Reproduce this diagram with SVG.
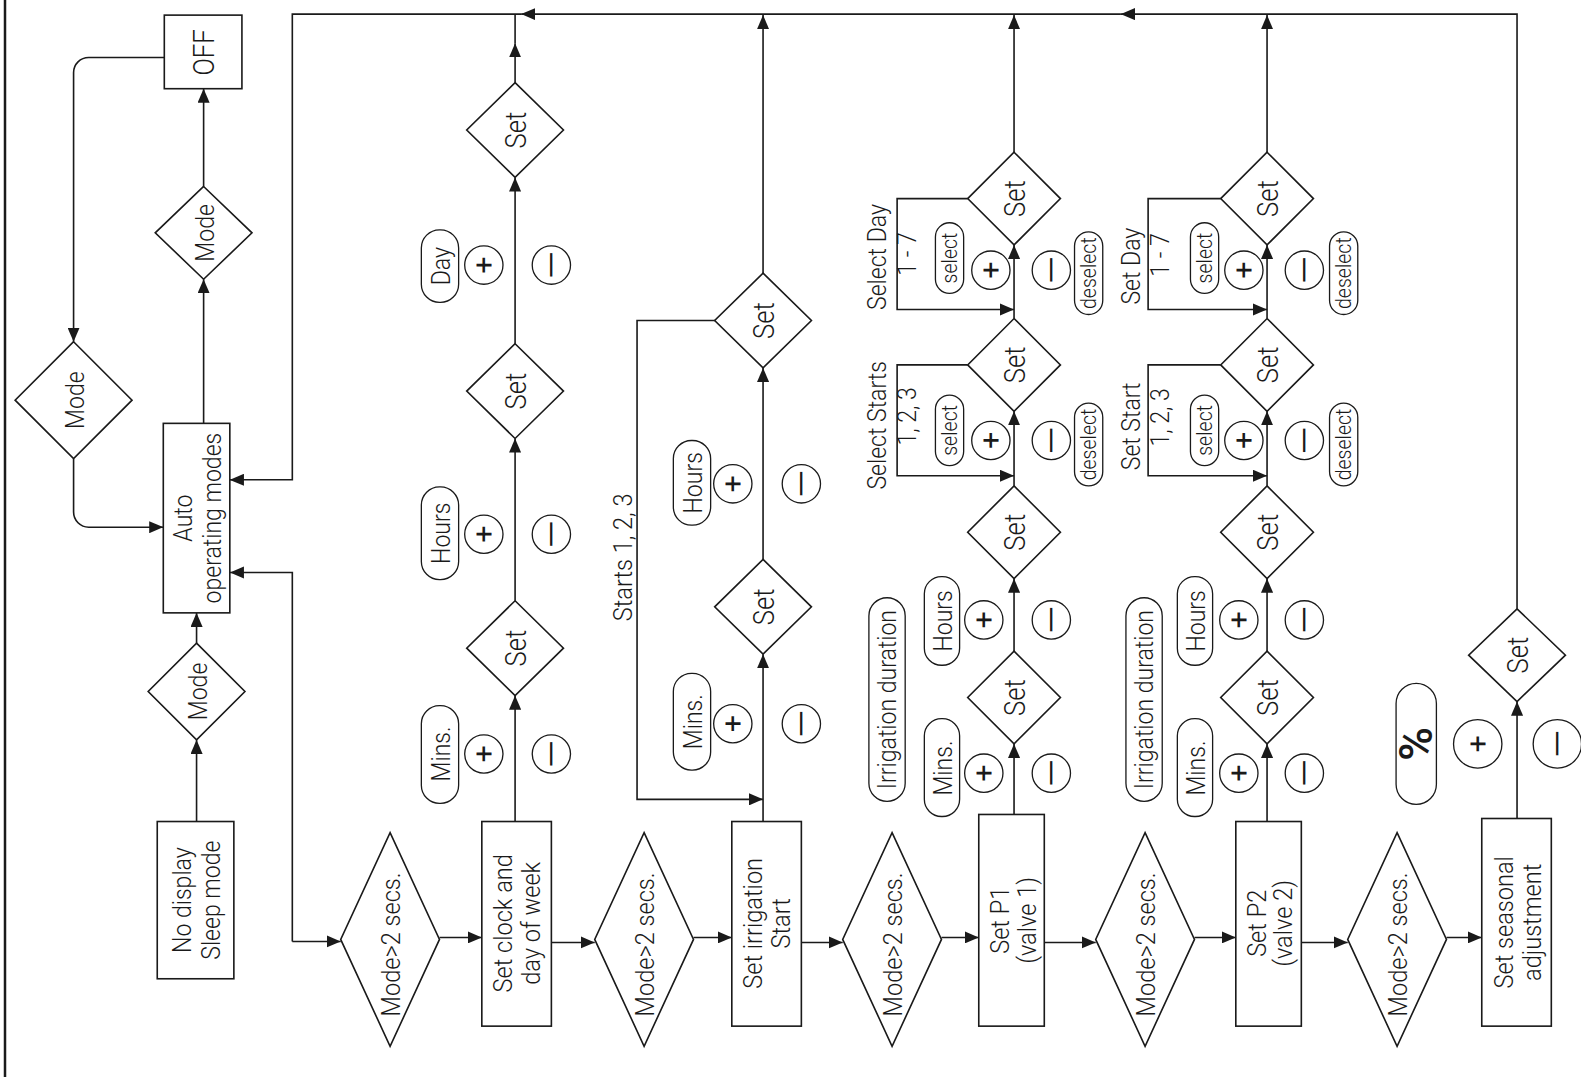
<svg xmlns="http://www.w3.org/2000/svg" width="1581" height="1077" viewBox="0 0 1581 1077">
<defs>
<marker id="ah" markerWidth="14" markerHeight="12" refX="14" refY="6" orient="auto" markerUnits="userSpaceOnUse"><path d="M0,0 L14,6 L0,12 z" fill="#1a1a1a"/></marker>
<style>
.n{fill:#fff;stroke:#1a1a1a;stroke-width:1.6}
.p{fill:#fff;stroke:#1a1a1a;stroke-width:1.3}
.c{fill:none;stroke:#1a1a1a;stroke-width:1.6}
.a{fill:none;stroke:#1a1a1a;stroke-width:1.6;marker-end:url(#ah)}
.t{font-family:Roboto,"Liberation Sans",sans-serif;font-size:26px;font-weight:300;fill:#1a1a1a;text-anchor:middle;dominant-baseline:central}
.s{font-size:22px}
.pl{font-size:30px;font-weight:400}
.pc{font-size:46px;font-weight:500}
.big{font-size:29px}
</style>
</defs>
<rect width="1581" height="1077" fill="#fff"/>
<line x1="5" y1="0" x2="5" y2="1077" stroke="#1a1a1a" stroke-width="2.5"/>
<g transform="scale(1.008)">
<g id="connectors">
<path class="a" d="M163,57 H88 A15,15 0 0 0 73,72 V339"/>
<path class="a" d="M73,455 V508 A15,15 0 0 0 88,523 H162"/>
<path class="a" d="M202,420 V277"/>
<path class="a" d="M202,185 V88"/>
<path class="a" d="M195,815 V734"/>
<path class="a" d="M195,638 V608"/>
<path class="a" d="M1505,604 V14 H1112"/>
<path class="a" d="M1112,14 H517"/>
<path class="a" d="M517,14 H290 V476 H228"/>
<path class="a" d="M290,934 V568 H228"/>
<path class="a" d="M290,934 H338"/>
<path class="a" d="M436,930 H478"/>
<path class="a" d="M547,935 H590"/>
<path class="a" d="M688,930 H726"/>
<path class="a" d="M795,935 H836"/>
<path class="a" d="M934,930 H971"/>
<path class="a" d="M1036,935 H1087"/>
<path class="a" d="M1185,930 H1226"/>
<path class="a" d="M1291,935 H1337"/>
<path class="a" d="M1435,930 H1470"/>
<path class="a" d="M511,815 V690"/>
<path class="a" d="M511,596 V435"/>
<path class="a" d="M511,341 V176"/>
<path class="a" d="M511,82 V43"/>
<path class="c" d="M511,43 V14"/>
<path class="a" d="M757,815 V649"/>
<path class="a" d="M757,555 V365"/>
<path class="a" d="M757,271 V15"/>
<path class="a" d="M710,318 H632 V793 H757"/>
<path class="a" d="M1006,808 V738"/>
<path class="a" d="M1006,646 V574"/>
<path class="a" d="M1006,482 V408"/>
<path class="a" d="M1006,316 V243"/>
<path class="a" d="M1006,151 V15"/>
<path class="a" d="M960,362 H890 V472 H1006"/>
<path class="a" d="M960,197 H890 V307 H1006"/>
<path class="a" d="M1257,815 V738"/>
<path class="a" d="M1257,646 V574"/>
<path class="a" d="M1257,482 V408"/>
<path class="a" d="M1257,316 V243"/>
<path class="a" d="M1257,151 V15"/>
<path class="a" d="M1211,362 H1139 V472 H1257"/>
<path class="a" d="M1211,197 H1139 V307 H1257"/>
<path class="a" d="M1505,812 V696"/>
</g>

<g id="off"><rect class="n" x="163" y="15" width="77" height="73"/><text class="t big" transform="translate(202 52) rotate(-90) scale(.88 1)">OFF</text></g>
<g id="mode-top"><polygon class="n" points="202,185 250,231 202,277 154,231"/><text class="t" transform="translate(203 231) rotate(-90) scale(.88 1)">Mode</text></g>
<g id="mode-left"><polygon class="n" points="73,339 131,397 73,455 15,397"/><text class="t" transform="translate(74 397) rotate(-90) scale(.88 1)">Mode</text></g>
<g id="auto"><rect class="n" x="162" y="420" width="66" height="188"/><text class="t" transform="translate(182 514) rotate(-90) scale(.88 1)">Auto</text><text class="t" transform="translate(210 514) rotate(-90) scale(.88 1)">operating modes</text></g>
<g id="mode-low"><polygon class="n" points="195,638 243,686 195,734 147,686"/><text class="t" transform="translate(196 686) rotate(-90) scale(.88 1)">Mode</text></g>
<g id="sleep"><rect class="n" x="156" y="815" width="76" height="156"/><text class="t" transform="translate(181 893) rotate(-90) scale(.88 1)">No display</text><text class="t" transform="translate(209 893) rotate(-90) scale(.88 1)">Sleep mode</text></g>

<g id="mode2s-1"><polygon class="n" points="387,826 436,932 387,1038 338,932"/><text class="t" transform="translate(388 937) rotate(-90) scale(.9 1)">Mode&gt;2 secs.</text></g>
<g id="mode2s-2"><polygon class="n" points="639,826 688,932 639,1038 590,932"/><text class="t" transform="translate(640 937) rotate(-90) scale(.9 1)">Mode&gt;2 secs.</text></g>
<g id="mode2s-3"><polygon class="n" points="885,826 934,932 885,1038 836,932"/><text class="t" transform="translate(886 937) rotate(-90) scale(.9 1)">Mode&gt;2 secs.</text></g>
<g id="mode2s-4"><polygon class="n" points="1136,826 1185,932 1136,1038 1087,932"/><text class="t" transform="translate(1137 937) rotate(-90) scale(.9 1)">Mode&gt;2 secs.</text></g>
<g id="mode2s-5"><polygon class="n" points="1386,826 1435,932 1386,1038 1337,932"/><text class="t" transform="translate(1387 937) rotate(-90) scale(.9 1)">Mode&gt;2 secs.</text></g>

<g id="set-clock"><rect class="n" x="478" y="815" width="69" height="203"/><text class="t" transform="translate(499 916) rotate(-90) scale(.9 1)">Set clock and</text><text class="t" transform="translate(527 916) rotate(-90) scale(.9 1)">day of week</text></g>
<g id="set-start"><rect class="n" x="726" y="815" width="69" height="203"/><text class="t" transform="translate(747 916) rotate(-90) scale(.9 1)">Set irrigation</text><text class="t" transform="translate(775 916) rotate(-90) scale(.9 1)">Start</text></g>
<g id="set-p1"><rect class="n" x="971" y="808" width="65" height="210"/><text class="t" transform="translate(992 913) rotate(-90) scale(.9 1)">Set P1</text><text class="t" transform="translate(1019 913) rotate(-90) scale(.9 1)">(valve 1)</text></g>
<g id="set-p2"><rect class="n" x="1226" y="815" width="65" height="203"/><text class="t" transform="translate(1247 916) rotate(-90) scale(.9 1)">Set P2</text><text class="t" transform="translate(1273 916) rotate(-90) scale(.9 1)">(valve 2)</text></g>
<g id="set-seasonal"><rect class="n" x="1470" y="812" width="69" height="206"/><text class="t" transform="translate(1492 915) rotate(-90) scale(.9 1)">Set seasonal</text><text class="t" transform="translate(1520 915) rotate(-90) scale(.9 1)">adjustment</text></g>

<g id="c1-set-a"><polygon class="n" points="511,596 559,643 511,690 463,643"/><text class="t big" transform="translate(512 643) rotate(-90) scale(.88 1)">Set</text></g>
<g id="c1-set-b"><polygon class="n" points="511,341 559,388 511,435 463,388"/><text class="t big" transform="translate(512 388) rotate(-90) scale(.88 1)">Set</text></g>
<g id="c1-set-c"><polygon class="n" points="511,82 559,129 511,176 463,129"/><text class="t big" transform="translate(512 129) rotate(-90) scale(.88 1)">Set</text></g>
<g id="c1-keys">
<rect class="p" x="418" y="700" width="37" height="97" rx="18"/><text class="t" transform="translate(437 748) rotate(-90) scale(.88 1)">Mins.</text>
<rect class="p" x="418" y="483" width="37" height="92" rx="18"/><text class="t" transform="translate(437 529) rotate(-90) scale(.88 1)">Hours</text>
<rect class="p" x="418" y="228" width="37" height="72" rx="18"/><text class="t" transform="translate(437 264) rotate(-90) scale(.88 1)">Day</text>
<circle class="p" cx="480" cy="748" r="19"/><text class="t pl" transform="translate(480 748) rotate(-90)">+</text>
<circle class="p" cx="480" cy="530" r="19"/><text class="t pl" transform="translate(480 530) rotate(-90)">+</text>
<circle class="p" cx="480" cy="263" r="19"/><text class="t pl" transform="translate(480 263) rotate(-90)">+</text>
<circle class="p" cx="547" cy="748" r="19"/><text class="t pl" transform="translate(547 748) rotate(-90) scale(1.9 1)">−</text>
<circle class="p" cx="547" cy="530" r="19"/><text class="t pl" transform="translate(547 530) rotate(-90) scale(1.9 1)">−</text>
<circle class="p" cx="547" cy="263" r="19"/><text class="t pl" transform="translate(547 263) rotate(-90) scale(1.9 1)">−</text>
</g>

<g id="c2-set-a"><polygon class="n" points="757,555 805,602 757,649 709,602"/><text class="t big" transform="translate(758 602) rotate(-90) scale(.88 1)">Set</text></g>
<g id="c2-set-b"><polygon class="n" points="757,271 805,318 757,365 709,318"/><text class="t big" transform="translate(758 318) rotate(-90) scale(.88 1)">Set</text></g>
<g id="c2-keys">
<text class="t" transform="translate(618 553) rotate(-90) scale(.9 1)">Starts 1, 2, 3</text>
<rect class="p" x="668" y="668" width="37" height="96" rx="18"/><text class="t" transform="translate(687 716) rotate(-90) scale(.88 1)">Mins.</text>
<rect class="p" x="668" y="437" width="37" height="84" rx="18"/><text class="t" transform="translate(687 479) rotate(-90) scale(.88 1)">Hours</text>
<circle class="p" cx="727" cy="718" r="19"/><text class="t pl" transform="translate(727 718) rotate(-90)">+</text>
<circle class="p" cx="727" cy="480" r="19"/><text class="t pl" transform="translate(727 480) rotate(-90)">+</text>
<circle class="p" cx="795" cy="718" r="19"/><text class="t pl" transform="translate(795 718) rotate(-90) scale(1.9 1)">−</text>
<circle class="p" cx="795" cy="480" r="19"/><text class="t pl" transform="translate(795 480) rotate(-90) scale(1.9 1)">−</text>
</g>

<g id="c3-set-1"><polygon class="n" points="1006,646 1052,692 1006,738 960,692"/><text class="t big" transform="translate(1007 692) rotate(-90) scale(.88 1)">Set</text></g>
<g id="c3-set-2"><polygon class="n" points="1006,482 1052,528 1006,574 960,528"/><text class="t big" transform="translate(1007 528) rotate(-90) scale(.88 1)">Set</text></g>
<g id="c3-set-3"><polygon class="n" points="1006,316 1052,362 1006,408 960,362"/><text class="t big" transform="translate(1007 362) rotate(-90) scale(.88 1)">Set</text></g>
<g id="c3-set-4"><polygon class="n" points="1006,151 1052,197 1006,243 960,197"/><text class="t big" transform="translate(1007 197) rotate(-90) scale(.88 1)">Set</text></g>
<g id="c3-keys">
<rect class="p" x="862" y="593" width="36" height="202" rx="18"/><text class="t" transform="translate(880 694) rotate(-90) scale(.88 1)">Irrigation duration</text>
<rect class="p" x="917" y="572" width="35" height="88" rx="17"/><text class="t" transform="translate(935 616) rotate(-90) scale(.88 1)">Hours</text>
<rect class="p" x="917" y="713" width="35" height="97" rx="17"/><text class="t" transform="translate(935 762) rotate(-90) scale(.88 1)">Mins.</text>
<circle class="p" cx="976" cy="615" r="19"/><text class="t pl" transform="translate(976 615) rotate(-90)">+</text>
<circle class="p" cx="976" cy="767" r="19"/><text class="t pl" transform="translate(976 767) rotate(-90)">+</text>
<circle class="p" cx="1043" cy="615" r="19"/><text class="t pl" transform="translate(1043 615) rotate(-90) scale(1.9 1)">−</text>
<circle class="p" cx="1043" cy="767" r="19"/><text class="t pl" transform="translate(1043 767) rotate(-90) scale(1.9 1)">−</text>
<text class="t" transform="translate(870 422) rotate(-90) scale(.88 1)">Select Starts</text><text class="t" transform="translate(900 413) rotate(-90) scale(.88 1)">1, 2, 3</text>
<text class="t" transform="translate(870 255) rotate(-90) scale(.88 1)">Select Day</text><text class="t" transform="translate(900 252) rotate(-90) scale(.88 1)">1 - 7</text>
<rect class="p" x="928" y="392" width="28" height="70" rx="14"/><text class="t s" transform="translate(942 427) rotate(-90) scale(.88 1)">select</text>
<rect class="p" x="928" y="221" width="28" height="70" rx="14"/><text class="t s" transform="translate(942 256) rotate(-90) scale(.88 1)">select</text>
<circle class="p" cx="983" cy="437" r="19"/><text class="t pl" transform="translate(983 437) rotate(-90)">+</text>
<circle class="p" cx="983" cy="268" r="19"/><text class="t pl" transform="translate(983 268) rotate(-90)">+</text>
<circle class="p" cx="1043" cy="437" r="19"/><text class="t pl" transform="translate(1043 437) rotate(-90) scale(1.9 1)">−</text>
<circle class="p" cx="1043" cy="268" r="19"/><text class="t pl" transform="translate(1043 268) rotate(-90) scale(1.9 1)">−</text>
<rect class="p" x="1066" y="400" width="28" height="82" rx="14"/><text class="t s" transform="translate(1080 441) rotate(-90) scale(.88 1)">deselect</text>
<rect class="p" x="1066" y="230" width="28" height="82" rx="14"/><text class="t s" transform="translate(1080 271) rotate(-90) scale(.88 1)">deselect</text>
</g>

<g id="c4-set-1"><polygon class="n" points="1257,646 1303,692 1257,738 1211,692"/><text class="t big" transform="translate(1258 692) rotate(-90) scale(.88 1)">Set</text></g>
<g id="c4-set-2"><polygon class="n" points="1257,482 1303,528 1257,574 1211,528"/><text class="t big" transform="translate(1258 528) rotate(-90) scale(.88 1)">Set</text></g>
<g id="c4-set-3"><polygon class="n" points="1257,316 1303,362 1257,408 1211,362"/><text class="t big" transform="translate(1258 362) rotate(-90) scale(.88 1)">Set</text></g>
<g id="c4-set-4"><polygon class="n" points="1257,151 1303,197 1257,243 1211,197"/><text class="t big" transform="translate(1258 197) rotate(-90) scale(.88 1)">Set</text></g>
<g id="c4-keys">
<rect class="p" x="1117" y="593" width="36" height="202" rx="18"/><text class="t" transform="translate(1135 694) rotate(-90) scale(.88 1)">Irrigation duration</text>
<rect class="p" x="1168" y="572" width="35" height="88" rx="17"/><text class="t" transform="translate(1186 616) rotate(-90) scale(.88 1)">Hours</text>
<rect class="p" x="1168" y="713" width="35" height="97" rx="17"/><text class="t" transform="translate(1186 762) rotate(-90) scale(.88 1)">Mins.</text>
<circle class="p" cx="1229" cy="615" r="19"/><text class="t pl" transform="translate(1229 615) rotate(-90)">+</text>
<circle class="p" cx="1229" cy="767" r="19"/><text class="t pl" transform="translate(1229 767) rotate(-90)">+</text>
<circle class="p" cx="1294" cy="615" r="19"/><text class="t pl" transform="translate(1294 615) rotate(-90) scale(1.9 1)">−</text>
<circle class="p" cx="1294" cy="767" r="19"/><text class="t pl" transform="translate(1294 767) rotate(-90) scale(1.9 1)">−</text>
<text class="t" transform="translate(1122 423) rotate(-90) scale(.88 1)">Set Start</text><text class="t" transform="translate(1151 414) rotate(-90) scale(.88 1)">1, 2, 3</text>
<text class="t" transform="translate(1122 264) rotate(-90) scale(.88 1)">Set Day</text><text class="t" transform="translate(1151 253) rotate(-90) scale(.88 1)">1 - 7</text>
<rect class="p" x="1181" y="392" width="28" height="70" rx="14"/><text class="t s" transform="translate(1195 427) rotate(-90) scale(.88 1)">select</text>
<rect class="p" x="1181" y="221" width="28" height="70" rx="14"/><text class="t s" transform="translate(1195 256) rotate(-90) scale(.88 1)">select</text>
<circle class="p" cx="1234" cy="437" r="19"/><text class="t pl" transform="translate(1234 437) rotate(-90)">+</text>
<circle class="p" cx="1234" cy="268" r="19"/><text class="t pl" transform="translate(1234 268) rotate(-90)">+</text>
<circle class="p" cx="1294" cy="437" r="19"/><text class="t pl" transform="translate(1294 437) rotate(-90) scale(1.9 1)">−</text>
<circle class="p" cx="1294" cy="268" r="19"/><text class="t pl" transform="translate(1294 268) rotate(-90) scale(1.9 1)">−</text>
<rect class="p" x="1319" y="400" width="28" height="82" rx="14"/><text class="t s" transform="translate(1333 441) rotate(-90) scale(.88 1)">deselect</text>
<rect class="p" x="1319" y="230" width="28" height="82" rx="14"/><text class="t s" transform="translate(1333 271) rotate(-90) scale(.88 1)">deselect</text>
</g>

<g id="c5-set"><polygon class="n" points="1505,604 1553,650 1505,696 1457,650"/><text class="t big" transform="translate(1506 650) rotate(-90) scale(.88 1)">Set</text></g>
<g id="c5-keys">
<rect class="p" x="1385" y="678" width="40" height="120" rx="20"/><text class="t pc" transform="translate(1405 738) rotate(-90)">%</text>
<circle class="p" cx="1466" cy="738" r="24"/><text class="t pl" transform="translate(1466 738) rotate(-90)">+</text>
<circle class="p" cx="1545" cy="738" r="24"/><text class="t pl" transform="translate(1545 738) rotate(-90) scale(1.9 1)">−</text>
</g>
</g>
</svg>
